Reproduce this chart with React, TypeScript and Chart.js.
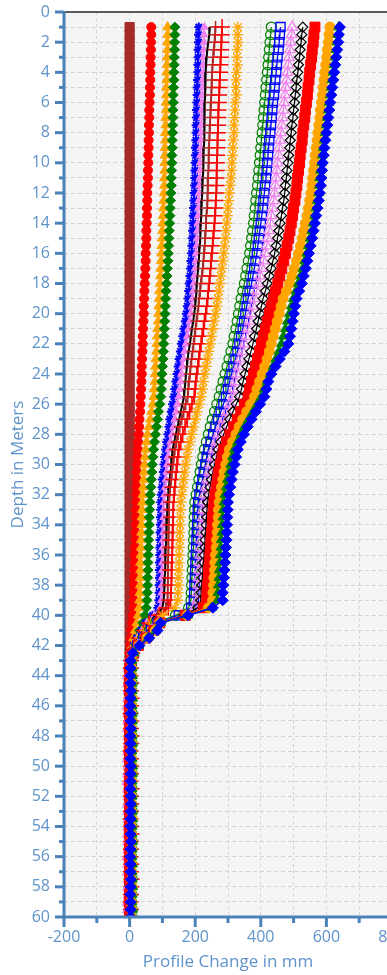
import React, { useEffect, useRef } from 'react';
import { Chart, registerables } from 'chart.js';

Chart.register(...registerables);

// Depth (m) of each reading
const depths = [
  1, 1.5, 2, 2.5, 3, 3.5, 4, 4.5, 5, 5.5, 6, 6.5, 7, 7.5, 8, 8.5, 9, 9.5, 10, 10.5,
  11, 11.5, 12, 12.5, 13, 13.5, 14, 14.5, 15, 15.5, 16, 16.5, 17, 17.5, 18, 18.5, 19, 19.5, 20, 20.5,
  21, 21.5, 22, 22.5, 23, 23.5, 24, 24.5, 25, 25.5, 26, 26.5, 27, 27.5, 28, 28.5, 29, 29.5, 30, 30.5,
  31, 31.5, 32, 32.5, 33, 33.5, 34, 34.5, 35, 35.5, 36, 36.5, 37, 37.5, 38, 38.5, 39, 39.5, 40, 40.5,
  41, 41.5, 42, 42.5, 43, 43.5, 44, 44.5, 45, 45.5, 46, 46.5, 47, 47.5, 48, 48.5, 49, 49.5, 50, 50.5,
  51, 51.5, 52, 52.5, 53, 53.5, 54, 54.5, 55, 55.5, 56, 56.5, 57, 57.5, 58, 58.5, 59, 59.5, 60,
];

// Profile change (mm) per series, one value per depth
const brownSquare = [
  0, 0, 0, 0, 0, 0, 0, 0, 0, 0, 0, 0, 0, 0, 0, 0, 0,
  0, 0, 0, 0, 0, 0, 0, 0, 0, 0, 0, 0, 0, 0, 0, 0, 0,
  0, 0, 0, 0, 0, 0, 0, 0, 0, 0, 0, 0, 0, 0, 0, 0, 0,
  0, 0, 0, 0, 0, 0, 0, 0, 0, 0, 0, 0, 0, 0, 0, 0, 0,
  0, 0, 0, 0, 0, 0, 0, 0, 0, 0, 0, 0, 0, 0, 0, 0, 0,
  0, 1, 0, -1, 0, 1, 1, 0, -1, 0, 0, 1, 0, -1, 1, 0, 0, 1, 0, -1, 0, 1, 0, 0, -1, 1, 0, 0, 1, 0, -1, 0, 1, 0,
];
const redCircle = [
  66, 66, 65, 65, 64, 64, 63, 63, 62, 62, 61, 60, 60, 59, 59, 58, 58, 57, 57, 56, 56, 55, 54,
  54, 53, 53, 52, 51, 51, 50, 49, 49, 48, 47, 46, 45, 44,
  43, 43, 42, 41, 40, 40, 39, 38, 37, 37, 36, 35, 34,
  33, 32, 30, 29, 28, 26, 25,
  24, 24, 23, 23, 22, 22, 21,
  20, 20, 19, 18, 18, 17, 16, 16, 15, 14, 14, 13,
  13, 12, 10, 8, 6, 5, 3, 2, 1,
  1, 2, 1, 0, 1, 2, 3, 2, 1, 1, 0, 1, 2, 2, 1, 0, 1, 1, 2, 3, 2, 1, 0, 0, 1, 2, 1, 1, 0, 1, 2, 1, 0, 0,
];
const orangeTriangle = [
  116, 116, 115, 115, 114, 114, 113, 113, 112, 112, 111, 111, 110, 110, 109, 109, 108, 108, 107, 107, 106, 106, 105,
  104, 103, 102, 101, 100, 99, 98, 97, 96, 95, 94, 93, 91, 90,
  89, 88, 87, 85, 84, 83, 82, 80, 79, 78, 77, 75, 74,
  71, 67, 63, 59, 55, 52, 49,
  47, 46, 44, 43, 41, 40, 39,
  38, 37, 37, 36, 35, 35, 34, 33, 33, 32, 32, 31,
  30, 29, 26, 22, 17, 12, 8, 5, 3,
  2, 1, 3, 2, 0, 1, 2, 3, 1, 0, 2, 1, 3, 2, 1, 2, 0, 1, 3, 2, 1, 2, 1, 0, 2, 3, 1, 2, 1, 0, 1, 2, 1, 2,
];
const greenDiamond = [
  138, 138, 137, 137, 136, 136, 135, 135, 134, 133, 133, 132, 132, 131, 131, 130, 130, 129, 129, 128, 127, 127, 126,
  125, 124, 123, 122, 121, 120, 119, 118, 117, 115, 114, 113, 111, 110,
  109, 108, 107, 106, 105, 104, 103, 102, 100, 99, 98, 97, 95,
  92, 88, 85, 82, 79, 76, 73,
  71, 69, 68, 66, 65, 63, 62,
  61, 60, 60, 59, 58, 58, 57, 56, 56, 55, 55, 54,
  53, 51, 47, 40, 31, 22, 13, 7, 5,
  5, 6, 4, 5, 7, 6, 5, 4, 6, 7, 5, 6, 4, 5, 6, 7, 5, 4, 6, 5, 7, 6, 5, 4, 6, 5, 7, 6, 5, 6, 4, 5, 6, 5,
];
const blueStar = [
  211, 210, 210, 209, 209, 208, 208, 207, 206, 206, 205, 204, 204, 203, 203, 202, 201, 201, 200, 199, 199, 198, 197,
  196, 195, 194, 193, 192, 191, 190, 189, 187, 186, 184, 182, 180, 178,
  176, 173, 170, 166, 162, 158, 155, 151, 148, 145, 141, 138, 135,
  131, 127, 123, 120, 117, 113, 110,
  107, 105, 103, 100, 99, 97, 95,
  95, 94, 94, 93, 93, 92, 92, 91, 91, 91, 90, 90,
  89, 86, 70, 48, 35, 22, 12, 6, 2,
  0, -1, 1, 2, 0, -2, 1, 0, -1, 2, 1, 0, -2, -1, 1, 0, 2, 1, -1, 0, 1, -2, 0, 1, 2, 0, -1, 1, 0, -2, 1, 0, 2, 1,
];
const violetTriangle = [
  228, 227, 227, 226, 225, 225, 224, 223, 223, 222, 221, 220, 220, 219, 218, 218, 217, 216, 215, 215, 214, 213, 212,
  211, 210, 209, 208, 207, 206, 205, 203, 202, 200, 198, 196, 194, 192,
  190, 187, 184, 180, 176, 172, 168, 165, 161, 158, 155, 153, 150,
  146, 142, 138, 134, 130, 125, 120,
  117, 115, 113, 111, 109, 107, 105,
  104, 104, 103, 103, 102, 101, 101, 100, 100, 99, 99, 98,
  97, 94, 76, 52, 38, 24, 13, 6, 1,
  -4, -5, -3, -6, -4, -5, -3, -4, -6, -5, -4, -3, -5, -6, -4, -5, -3, -4, -5, -6, -4, -3, -5, -4, -6, -5, -3, -4, -5, -4, -6, -3, -5, -4,
];
const blackLine = [
  245, 243, 240, 237, 235, 233, 232, 231, 230, 230, 229, 229, 228, 228, 227, 227, 226, 225, 225, 224, 223, 222, 221,
  220, 219, 218, 217, 216, 215, 214, 212, 211, 209, 207, 205, 204, 202,
  200, 197, 194, 190, 187, 184, 180, 177, 175, 172, 170, 168, 166,
  161, 156, 151, 146, 141, 136, 131,
  129, 127, 125, 122, 120, 118, 116,
  115, 114, 113, 112, 111, 110, 109, 109, 108, 107, 106, 105,
  104, 100, 80, 55, 40, 26, 14, 7, 3,
  2, 1, 3, 2, 2, 1, 3, 2, 1, 2, 3, 2, 1, 2, 2, 3, 1, 2, 2, 1, 3, 2, 2, 1, 2, 3, 2, 1, 2, 2, 3, 1, 2, 2,
];
const brownPlus = [
  262, 261, 259, 257, 255, 253, 252, 251, 250, 249, 248, 247, 246, 245, 244, 243, 242, 241, 241, 240, 239, 239, 238,
  237, 236, 234, 233, 232, 230, 229, 227, 225, 223, 220, 217, 215, 212,
  210, 207, 204, 201, 198, 195, 192, 189, 186, 184, 181, 179, 177,
  171, 165, 159, 153, 148, 143, 138,
  135, 132, 129, 127, 124, 122, 120,
  120, 120, 119, 119, 118, 118, 118, 117, 117, 117, 116, 116,
  115, 110, 85, 58, 42, 28, 15, 8, 4,
  3, 4, 2, 3, 5, 4, 3, 2, 4, 3, 5, 3, 2, 4, 3, 4, 2, 3, 5, 4, 3, 2, 3, 4, 3, 5, 2, 3, 4, 3, 2, 4, 3, 3,
];
const redPlus = [
  282, 281, 280, 279, 278, 277, 276, 275, 274, 273, 272, 271, 270, 270, 269, 268, 268, 267, 266, 266, 265, 265, 264,
  263, 262, 260, 259, 257, 255, 253, 251, 249, 247, 245, 243, 240, 238,
  235, 232, 228, 225, 221, 218, 214, 211, 208, 205, 202, 200, 197,
  190, 183, 176, 169, 162, 156, 150,
  147, 145, 142, 140, 138, 136, 134,
  133, 133, 132, 131, 131, 130, 130, 129, 128, 128, 127, 126,
  125, 118, 90, 60, 44, 29, 16, 8, 4,
  4, 3, 5, 4, 6, 4, 3, 5, 4, 6, 5, 3, 4, 5, 4, 3, 6, 4, 5, 4, 3, 5, 6, 4, 4, 3, 5, 4, 6, 5, 4, 3, 4, 5,
];
const orangeStar = [
  330, 329, 331, 328, 327, 329, 326, 325, 324, 326, 322, 321, 320, 318, 319, 316, 315, 314, 312, 311, 309, 307, 304,
  302, 300, 298, 296, 294, 292, 289, 287, 284, 281, 278, 275, 272, 269,
  266, 262, 258, 254, 250, 246, 241, 237, 233, 229, 225, 222, 218,
  212, 206, 201, 195, 189, 184, 178,
  175, 171, 168, 165, 162, 159, 156,
  155, 155, 154, 153, 153, 152, 151, 151, 150, 149, 149, 148,
  147, 138, 100, 65, 47, 31, 17, 8, 3,
  1, -2, 3, 0, 2, -1, 4, 1, 0, -2, 2, 3, 1, -1, 0, 2, 4, 1, -2, 0, 3, 1, 2, -1, 0, 1, 3, 2, -2, 0, 1, 4, 2, 0,
];
const greenCircle = [
  432, 430, 428, 426, 424, 422, 420, 418, 416, 414, 412, 410, 408, 406, 404, 402, 400, 398, 396, 394, 392, 390, 387,
  385, 383, 380, 378, 375, 372, 369, 366, 362, 358, 354, 350, 345, 340,
  336, 332, 328, 324, 319, 315, 309, 303, 297, 291, 285, 279, 273,
  266, 259, 252, 246, 240, 234, 228,
  223, 219, 215, 211, 207, 203, 199,
  198, 197, 196, 196, 195, 194, 193, 192, 191, 190, 189, 188,
  187, 180, 140, 80, 60, 40, 22, 12, 7,
  7, 6, 8, 7, 5, 6, 8, 7, 6, 7, 8, 6, 5, 7, 8, 6, 7, 7, 6, 8, 5, 7, 6, 8, 7, 6, 7, 5, 8, 6, 7, 6, 8, 7,
];
const blueSquare = [
  460, 458, 456, 454, 451, 449, 447, 444, 442, 440, 437, 435, 433, 431, 429, 426, 424, 422, 420, 418, 416, 413, 411,
  408, 406, 403, 400, 397, 394, 391, 388, 384, 380, 376, 372, 366, 361,
  357, 353, 349, 345, 340, 335, 329, 323, 317, 311, 305, 300, 294,
  286, 278, 270, 262, 255, 247, 240,
  235, 231, 226, 222, 218, 213, 209,
  208, 207, 206, 205, 204, 203, 202, 201, 200, 199, 198, 197,
  196, 188, 150, 85, 65, 42, 24, 12, 6,
  1, 2, 0, 1, 3, 1, 0, 2, 1, 1, 2, 0, 1, 3, 2, 1, 0, 1, 2, 1, 0, 2, 1, 3, 1, 0, 1, 2, 1, 0, 2, 1, 1, 2,
];
const violetOpen = [
  496, 494, 491, 489, 486, 484, 481, 479, 476, 474, 471, 469, 466, 464, 461, 459, 456, 454, 451, 449, 447, 444, 442,
  439, 436, 432, 429, 425, 421, 417, 413, 408, 403, 398, 393, 387, 381,
  376, 371, 366, 361, 355, 350, 344, 338, 333, 327, 322, 318, 315,
  306, 297, 288, 279, 271, 264, 257,
  252, 247, 242, 237, 233, 229, 226,
  224, 223, 221, 220, 219, 217, 216, 214, 213, 211, 210, 208,
  207, 198, 160, 88, 68, 45, 25, 13, 5,
  -3, -5, -4, -2, -4, -6, -3, -4, -5, -3, -2, -4, -5, -3, -4, -6, -4, -3, -5, -4, -2, -3, -5, -4, -3, -6, -4, -5, -3, -4, -2, -5, -4, -3,
];
const blackDiamond = [
  528, 525, 523, 520, 518, 515, 513, 510, 508, 505, 503, 500, 498, 495, 493, 490, 488, 485, 483, 480, 478, 475, 473,
  470, 466, 463, 459, 455, 451, 447, 442, 437, 432, 426, 420, 414, 407,
  402, 397, 392, 387, 381, 376, 370, 364, 358, 352, 346, 341, 335,
  325, 315, 305, 296, 287, 278, 270,
  265, 259, 254, 249, 245, 241, 238,
  236, 235, 233, 232, 230, 229, 227, 225, 224, 222, 220, 218,
  217, 208, 165, 90, 70, 47, 26, 13, 5,
  3, 2, 4, 3, 3, 2, 4, 3, 2, 3, 4, 3, 3, 2, 4, 3, 2, 3, 4, 3, 2, 3, 3, 4, 2, 3, 3, 4, 3, 2, 3, 4, 3, 3,
];
const redSquare = [
  565, 562, 560, 557, 555, 552, 549, 547, 544, 542, 539, 536, 534, 531, 528, 526, 523, 520, 518, 515, 512, 510, 507,
  504, 500, 497, 493, 489, 485, 480, 475, 470, 464, 458, 452, 445, 438,
  432, 426, 420, 414, 408, 402, 396, 390, 384, 378, 372, 366, 361,
  350, 339, 328, 317, 306, 296, 287,
  282, 277, 272, 268, 264, 260, 257,
  255, 253, 252, 250, 248, 247, 245, 243, 241, 240, 238, 236,
  235, 225, 170, 92, 74, 50, 27, 12, 4,
  0, 1, -1, 0, 2, 0, -1, 1, 0, 0, 1, -1, 0, 2, 1, 0, -1, 0, 1, 0, 2, -1, 0, 1, 0, -1, 1, 0, 0, 2, 0, -1, 1, 0,
];
const orangeCircle = [
  611, 608, 606, 603, 601, 598, 595, 593, 590, 588, 585, 582, 580, 577, 574, 572, 569, 566, 564, 561, 558, 556, 553,
  549, 545, 541, 536, 531, 526, 521, 515, 509, 502, 495, 488, 478, 468,
  462, 456, 450, 444, 438, 432, 426, 419, 412, 404, 396, 388, 381,
  369, 357, 345, 334, 324, 314, 304,
  298, 293, 288, 284, 280, 276, 273,
  271, 270, 268, 267, 265, 264, 262, 260, 259, 257, 256, 254,
  253, 240, 175, 93, 78, 53, 28, 13, 6,
  6, 7, 5, 6, 8, 6, 5, 7, 6, 6, 7, 5, 6, 8, 7, 6, 5, 6, 7, 6, 8, 5, 6, 7, 6, 5, 7, 6, 6, 8, 6, 5, 7, 6,
];
const greenTriangle = [
  637, 634, 632, 629, 626, 623, 620, 617, 614, 611, 608, 605, 602, 599, 596, 593, 590, 587, 585, 582, 579, 578, 576,
  572, 568, 564, 559, 555, 550, 545, 540, 534, 528, 521, 514, 507, 499,
  493, 487, 481, 475, 469, 463, 455, 446, 437, 428, 419, 410, 402,
  389, 376, 363, 350, 339, 329, 319,
  313, 308, 303, 298, 294, 290, 287,
  285, 284, 282, 281, 279, 278, 276, 275, 273, 272, 270, 269,
  268, 250, 178, 95, 80, 56, 29, 14, 7,
  8, 9, 7, 8, 10, 8, 7, 9, 8, 8, 9, 7, 8, 10, 9, 8, 7, 8, 9, 8, 10, 7, 8, 9, 8, 7, 9, 8, 8, 10, 8, 7, 9, 8,
];
const blueDiamond = [
  641, 638, 636, 633, 630, 627, 624, 621, 618, 615, 612, 609, 606, 603, 600, 597, 594, 592, 589, 587, 585, 583, 580,
  577, 573, 569, 565, 561, 557, 552, 547, 542, 537, 531, 525, 517, 509,
  505, 501, 497, 493, 489, 484, 472, 458, 445, 432, 423, 417, 411,
  398, 385, 372, 360, 349, 339, 330,
  325, 320, 315, 311, 307, 303, 300,
  299, 298, 297, 296, 295, 294, 292, 291, 289, 288, 286, 284,
  284, 254, 178, 95, 85, 60, 30, 10, 3,
  3, 2, 3, 4, 3, 2, 3, 3, 4, 2, 3, 3, 2, 4, 3, 3, 2, 3, 4, 3, 3, 2, 3, 4, 3, 2, 3, 3, 4, 3, 2, 3, 3, 3,
];

const FONT = "'Open Sans', 'DejaVu Sans', sans-serif";
const LABEL_COLOR = '#5f93cb';
const AXIS_COLOR = '#4a80b8';
const GRID_COLOR = '#d3d3d3';
const TICK_SIZE = 16;
const TITLE_SIZE = 17;

type Style = {
  vals: number[];
  color: string;
  style: string | false;
  r: number;
  filled: boolean;
  pbw: number;
  lw: number;
};

const series: Style[] = [
  { vals: brownSquare, color: '#a52a2a', style: 'rect', r: 6.5, filled: true, pbw: 1, lw: 2 },
  { vals: redCircle, color: '#ff0000', style: 'circle', r: 4.5, filled: true, pbw: 1, lw: 1.5 },
  { vals: orangeTriangle, color: '#ffa500', style: 'triangle', r: 5.5, filled: true, pbw: 1, lw: 1.5 },
  { vals: greenDiamond, color: '#008000', style: 'rectRot', r: 5, filled: true, pbw: 1, lw: 1.5 },
  { vals: blueStar, color: '#0000ff', style: 'star', r: 4.5, filled: true, pbw: 2, lw: 1.5 },
  { vals: violetTriangle, color: '#ee82ee', style: 'triangle', r: 4.5, filled: true, pbw: 1, lw: 1.5 },
  { vals: blackLine, color: '#000000', style: false, r: 0, filled: true, pbw: 1, lw: 2 },
  { vals: brownPlus, color: '#a52a2a', style: 'cross', r: 6, filled: false, pbw: 1.5, lw: 1.5 },
  { vals: redPlus, color: '#ff0000', style: 'cross', r: 8, filled: false, pbw: 1.5, lw: 1.5 },
  { vals: orangeStar, color: '#ffa500', style: 'star', r: 5.5, filled: false, pbw: 1.3, lw: 1.2 },
  { vals: greenCircle, color: '#008000', style: 'circle', r: 5, filled: false, pbw: 1.2, lw: 1.2 },
  { vals: blueSquare, color: '#0000ff', style: 'rect', r: 6.5, filled: false, pbw: 1.3, lw: 1.3 },
  { vals: violetOpen, color: '#ee82ee', style: 'triangle', r: 6, filled: false, pbw: 1.3, lw: 1.3 },
  { vals: blackDiamond, color: '#000000', style: 'rectRot', r: 5, filled: false, pbw: 1.2, lw: 1.2 },
  { vals: redSquare, color: '#ff0000', style: 'rect', r: 7, filled: true, pbw: 1, lw: 1.5 },
  { vals: orangeCircle, color: '#ffa500', style: 'circle', r: 5, filled: true, pbw: 1, lw: 1.5 },
  { vals: greenTriangle, color: '#008000', style: 'triangle', r: 5.5, filled: true, pbw: 1, lw: 1.5 },
  { vals: blueDiamond, color: '#0000ff', style: 'rectRot', r: 5.5, filled: true, pbw: 1, lw: 1.5 },
];

const decor = {
  id: 'decor',
  beforeDraw(chart: any) {
    const { ctx, chartArea: a } = chart;
    ctx.save();
    ctx.fillStyle = '#f4f4f4';
    ctx.fillRect(a.left, a.top, a.right - a.left, a.bottom - a.top);
    ctx.restore();
  },
  afterDraw(chart: any) {
    const { ctx, chartArea: a, scales } = chart;
    const xs = scales.x;
    const ys = scales.y;
    const seg = (x1: number, y1: number, x2: number, y2: number) => {
      ctx.beginPath();
      ctx.moveTo(x1, y1);
      ctx.lineTo(x2, y2);
      ctx.stroke();
    };
    ctx.save();
    ctx.strokeStyle = '#5a5a5a';
    ctx.lineWidth = 2;
    seg(a.left, a.top, a.right + 30, a.top);
    ctx.strokeStyle = AXIS_COLOR;
    ctx.lineWidth = 3;
    seg(a.left, a.top - 1, a.left, a.bottom + 1.5);
    seg(a.left - 1.5, a.bottom, a.right + 30, a.bottom);
    ys.ticks.forEach((t: any) => {
      const p = ys.getPixelForValue(t.value);
      const len = t.value % 2 === 0 ? 9 : 5;
      seg(a.left - len, p, a.left, p);
    });
    xs.ticks.forEach((t: any) => {
      const p = xs.getPixelForValue(t.value);
      const len = t.value % 200 === 0 ? 10 : 6;
      seg(p, a.bottom, p, a.bottom + len);
    });
    ctx.restore();
  },
};

export default function App() {
  const ref = useRef<HTMLCanvasElement>(null);

  useEffect(() => {
    const n = series.length;
    const datasets = series.map((s, i) => ({
      data: depths.map((d, k) => ({ x: s.vals[k], y: d })),
      showLine: true,
      borderColor: s.color,
      backgroundColor: s.color,
      borderWidth: s.lw,
      tension: 0,
      pointStyle: s.style,
      pointRadius: s.r,
      pointHoverRadius: s.r,
      pointBorderColor: s.color,
      pointBackgroundColor: s.filled ? s.color : 'rgba(0,0,0,0)',
      pointBorderWidth: s.pbw,
      order: n - 1 - i,
    }));

    const chart = new Chart(ref.current as HTMLCanvasElement, {
      type: 'scatter',
      data: { datasets } as any,
      options: {
        responsive: false,
        animation: false,
        devicePixelRatio: 1,
        layout: { padding: { top: 12, right: 25, bottom: 0, left: 0 } },
        plugins: { legend: { display: false }, tooltip: { enabled: false } },
        events: [],
        scales: {
          x: {
            type: 'linear',
            position: 'bottom',
            min: -200,
            max: 800,
            afterFit: (s: any) => {
              s.height = 58;
              s.paddingLeft = 0;
              s.paddingRight = 0;
            },
            ticks: {
              stepSize: 100,
              autoSkip: false,
              maxRotation: 0,
              padding: 11,
              color: LABEL_COLOR,
              font: { family: FONT, size: TICK_SIZE },
              callback: (v: any) => (Number(v) % 200 === 0 ? String(v) : ''),
            },
            grid: { color: GRID_COLOR, drawTicks: false, lineWidth: 1 },
            border: { display: false, dash: [3, 3] },
            title: {
              display: true,
              text: 'Profile Change in mm',
              color: LABEL_COLOR,
              font: { family: FONT, size: TITLE_SIZE },
              padding: { top: 0, bottom: 3 },
            },
          },
          y: {
            type: 'linear',
            reverse: true,
            min: 0,
            max: 60,
            afterFit: (s: any) => {
              s.width = 64;
              s.paddingTop = 0;
              s.paddingBottom = 0;
            },
            ticks: {
              stepSize: 1,
              autoSkip: false,
              padding: 14,
              color: LABEL_COLOR,
              font: { family: FONT, size: TICK_SIZE },
              callback: (v: any) => (Number(v) % 2 === 0 ? String(v) : ''),
            },
            grid: { color: GRID_COLOR, drawTicks: false, lineWidth: 1 },
            border: { display: false, dash: [4, 3] },
            title: {
              display: true,
              text: 'Depth in Meters',
              color: LABEL_COLOR,
              font: { family: FONT, size: TITLE_SIZE },
              padding: { top: 8, bottom: 0 },
            },
          },
        },
      } as any,
      plugins: [decor],
    });
    return () => chart.destroy();
  }, []);

  return (
    <div
      style={{
        position: 'fixed',
        left: 0,
        top: 0,
        width: 387,
        height: 975,
        overflow: 'hidden',
        background: '#ffffff',
      }}
    >
      <canvas ref={ref} width={417} height={975} style={{ display: 'block', width: 417, height: 975 }} />
    </div>
  );
}
